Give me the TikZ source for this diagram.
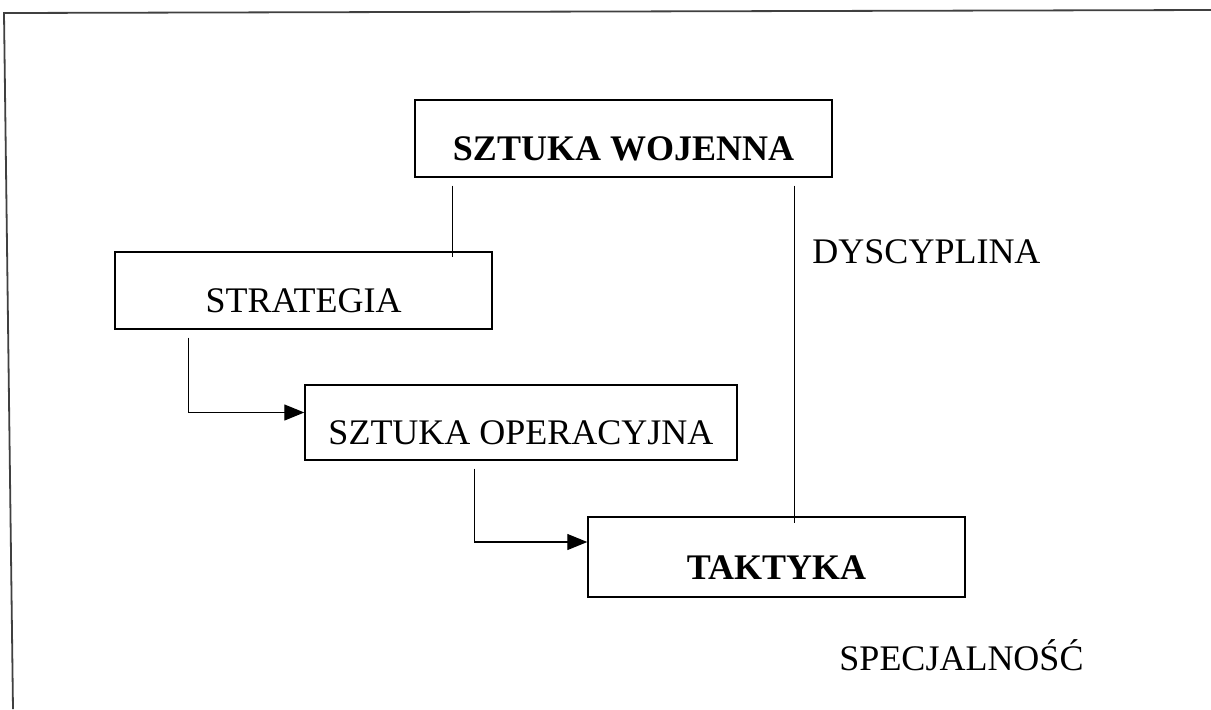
\documentclass[tikz,border=0pt]{standalone}
\usepackage{fontspec}
\setmainfont{Liberation Serif}
\usetikzlibrary{arrows.meta}

\begin{document}
\begin{tikzpicture}[x=0.5pt,y=-0.5pt]

    \tikzset{
      BoxStyle/.style = { rectangle, draw, line width = 0.7pt, inner sep = 0pt,
			  text height = 22pt, text depth = 0pt,
			  font = \fontsize{18}{21}\selectfont },
      LabelStyle/.style = { inner sep = 0pt, anchor = base,
			  font = \fontsize{18}{21}\selectfont },
      LinkStyle/.style = { line width = 0.6pt },
      FlowStyle/.style = { line width = 0.6pt,
			  -{Triangle[length=10pt,width=8pt]} } }
      \useasboundingbox (0,0) rectangle (1211,709);
      \draw[line width = 0.9pt, black!75] (1211,10) -- (4,13) -- (13,709);

      \node[BoxStyle, minimum width = 208.5pt, minimum height = 38.5pt,
	    font = \fontsize{18}{21}\selectfont\bfseries] (wojenna) at (623.5,138.5) {SZTUKA WOJENNA};
      \node[BoxStyle, minimum width = 188.5pt, minimum height = 38.5pt] (strategia) at (303.5,290.5) {STRATEGIA};
      \node[BoxStyle, minimum width = 216pt, minimum height = 37.5pt] (operacyjna) at (521,422.5) {SZTUKA OPERACYJNA};
      \node[BoxStyle, minimum width = 188.5pt, minimum height = 40pt,
	    font = \fontsize{18}{21}\selectfont\bfseries] (taktyka) at (776.5,557) {TAKTYKA};

      \node[LabelStyle] (dyscyplina) at (926.5,263) {DYSCYPLINA};
      \node[LabelStyle] (specjalnosc) at (961.5,670) {SPECJALNOŚĆ};

      \coordinate (w1) at ([xshift=19pt,yshift=-4pt]wojenna.south west);
      \coordinate (w2) at ([xshift=-19pt,yshift=-4pt]wojenna.south east);
      \coordinate (s1) at ([xshift=37pt,yshift=-4pt]strategia.south west);
      \coordinate (o1) at ([xshift=85pt,yshift=-4pt]operacyjna.south west);

      \draw[LinkStyle, shorten >= -3pt] (w1) -- (w1 |- strategia.north);
      \draw[LinkStyle, shorten >= -3.5pt] (w2) -- (w2 |- taktyka.north);

      \draw[FlowStyle] (s1) |- ([yshift=5pt]operacyjna.west);
      \draw[FlowStyle] (o1) |- ([yshift=7.5pt]taktyka.west);
    \end{tikzpicture}
\end{document}
